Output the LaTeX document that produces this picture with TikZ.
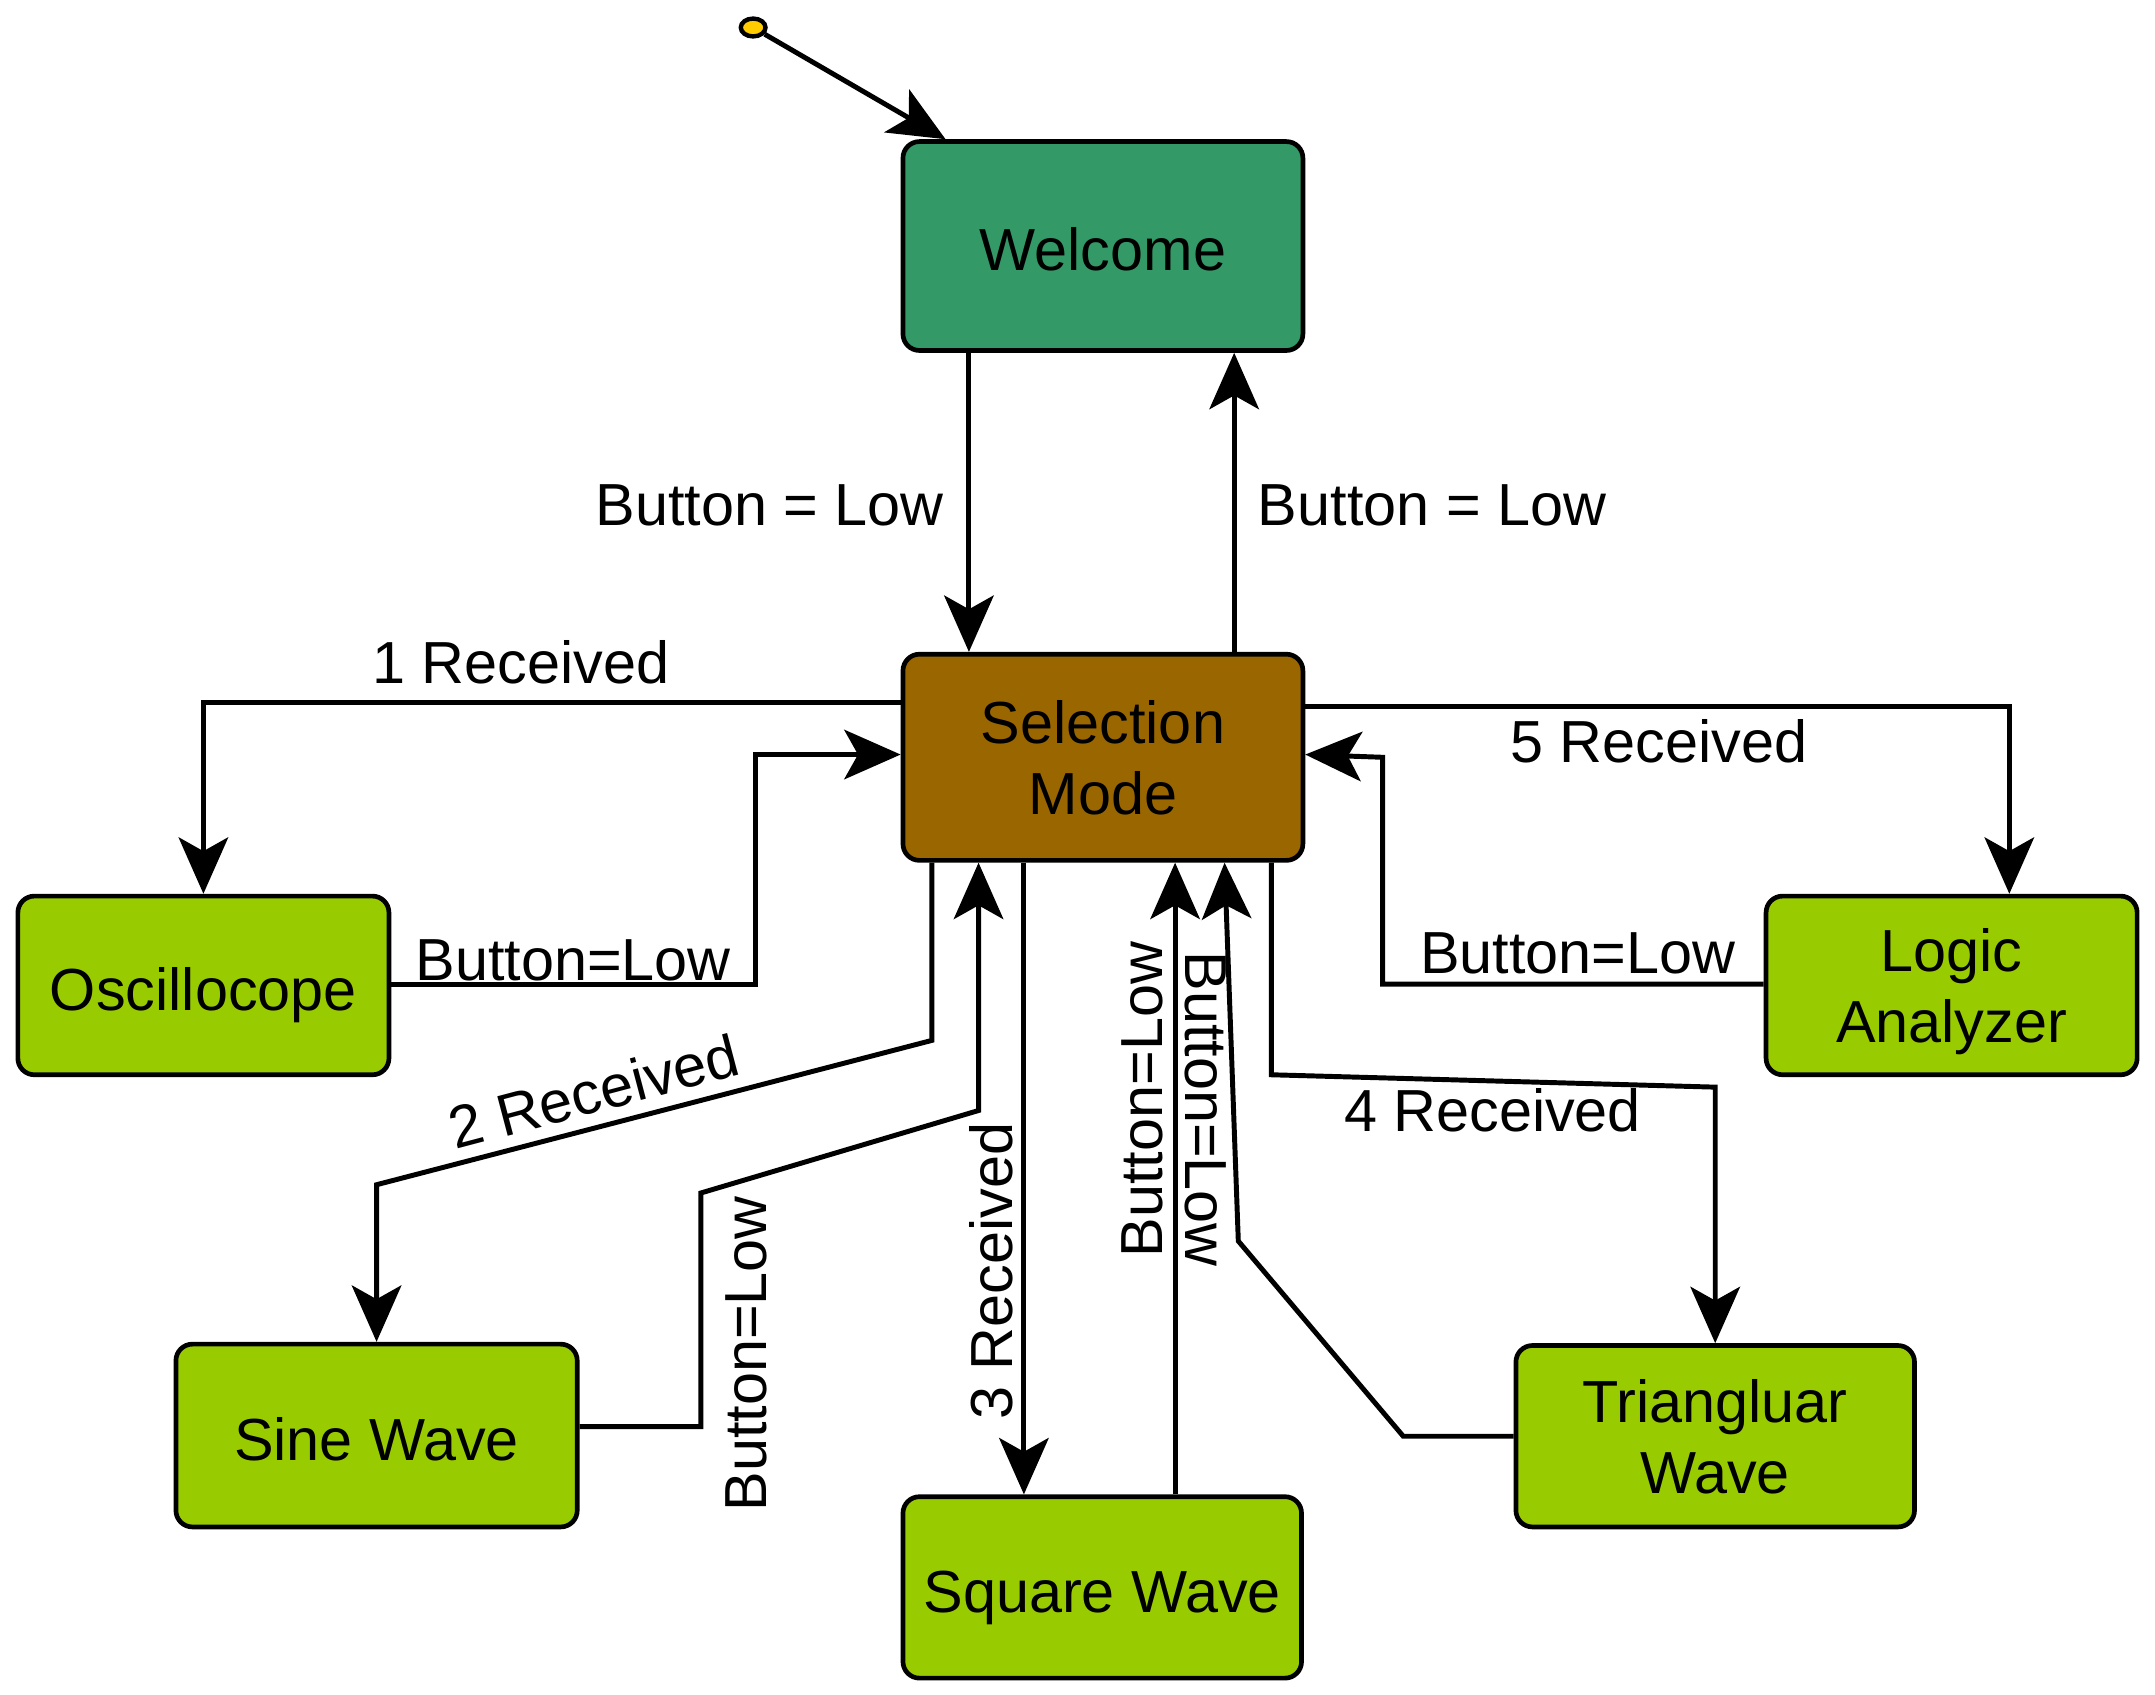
\documentclass[tikz,border=0pt]{standalone}
\usepackage{fontspec}
\setmainfont{Liberation Sans}
\usetikzlibrary{arrows.meta,shapes.geometric}
\definecolor{wgreen}{HTML}{339966}
\definecolor{selbrown}{HTML}{996600}
\definecolor{lgreen}{HTML}{99CC00}
\definecolor{dotyel}{HTML}{FFCC00}
\begin{document}
\begin{tikzpicture}[x=0.5pt,y=-0.5pt,
  every node/.style={font=\fontsize{21.6pt}{26pt}\selectfont, inner sep=0pt},
  state/.style={draw=black, line width=1.7pt, rounded corners=6pt, align=center, text=black},
  oneline/.style={text height=18pt, text depth=0pt},
  twoline/.style={text depth=-2.5pt},
  lbl/.style={text=black},
  arr/.style={draw=black, line width=1.8pt, -{Stealth[length=20.5pt,width=18pt,inset=5pt]}}]
\useasboundingbox (0,0) rectangle (1568,1233);

% states
\node[state, oneline, fill=wgreen, minimum width=145.5pt, minimum height=76pt] (welcome) at (802.5,179) {Welcome};
\node[state, twoline, fill=selbrown, minimum width=145.5pt, minimum height=75pt] (sel) at (802.5,551) {Selection\\Mode};
\node[state, oneline, fill=lgreen, minimum width=135pt, minimum height=65pt] (osc) at (148,717) {Oscillocope};
\node[state, twoline, fill=lgreen, minimum width=135pt, minimum height=65pt] (logic) at (1420,717) {Logic\\Analyzer};
\node[state, oneline, fill=lgreen, minimum width=146pt, minimum height=66.5pt] (sine) at (274,1044.5) {Sine Wave};
\node[state, oneline, fill=lgreen, minimum width=145pt, minimum height=66pt] (square) at (802,1155) {Square Wave};
\node[state, twoline, fill=lgreen, minimum width=145pt, minimum height=66pt] (tri) at (1248,1045) {Triangluar\\Wave};

% initial dot
\node[draw=black, line width=1.6pt, fill=dotyel, ellipse, minimum width=9pt, minimum height=6.5pt] (dot) at (548,20) {};
\draw[arr] (dot) -- (welcome.north -| 688,0);

% Welcome <-> Selection
\draw[arr] (welcome.south -| 705,0) -- (sel.north -| 705,0);
\node[lbl] (l0) at (560,368) {Button = Low};
\draw[arr] (sel.north -| 898,0) -- (welcome.south -| 898,0);
\node[lbl] (l0b) at (1042,368) {Button = Low};

% Oscillocope
\draw[arr] (sel.west |- 0,511) -| (osc.north);
\node[lbl] (l1) at (379,482) {1 Received};
\draw[arr] (osc.east |- 0,716) -| (550,549) -- (sel.west |- 0,549);
\node[lbl] (l1b) at (417,699) {Button=Low};

% Logic Analyzer
\draw[arr] (sel.east |- 0,514) -| (logic.north -| 1462,0);
\node[lbl] (l5) at (1207,539) {5 Received};
\draw[arr] (logic.west |- 0,716) -| (1006,551) -- (sel.east |- 0,549);
\node[lbl] (l5b) at (1148,694) {Button=Low};

% Sine Wave
\draw[arr] (sel.south -| 678,0) -- (678,757) -- (274,862) -- (sine.north);
\node[lbl, rotate=14.8] (l2) at (432,794) {2 Received};
\draw[arr] (sine.east |- 0,1038) -- (510,1038) -- (510,868) -- (712,808) -- (sel.south -| 712,0);
\node[lbl, rotate=90] (l2b) at (543,985) {Button=Low};

% Square Wave
\draw[arr] (sel.south -| 745,0) -- (square.north -| 745,0);
\node[lbl, rotate=90] (l3) at (721,925) {3 Received};
\draw[arr] (square.north -| 855,0) -- (sel.south -| 855,0);
\node[lbl, rotate=90] (l3b) at (831,800) {Button=Low};

% Triangular Wave
\draw[arr] (sel.south -| 925,0) -- (925,782) -- (1248,791) -- (tri.north);
\node[lbl] (l4) at (1086,808) {4 Received};
\draw[arr] (tri.west |- 0,1045) -- (1021,1045) -- (901,903) -- (sel.south -| 891,0);
\node[lbl, rotate=-90] (l4b) at (877,807) {Button=Low};
\end{tikzpicture}
\end{document}
